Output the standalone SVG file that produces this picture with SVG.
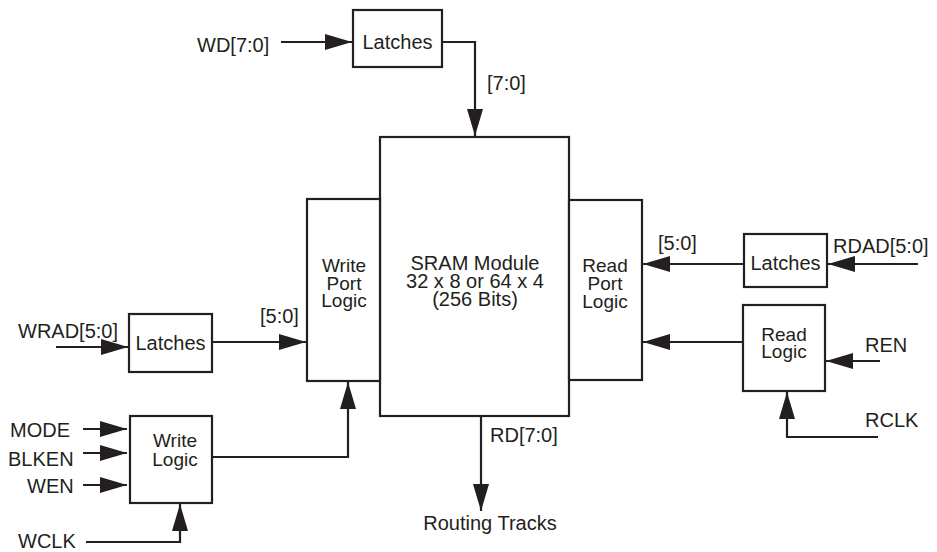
<svg xmlns="http://www.w3.org/2000/svg" width="937" height="552" viewBox="0 0 937 552">
<style>
.box{fill:#fff;stroke:#231f20;stroke-width:2.2}
.ln{fill:none;stroke:#231f20;stroke-width:2.2;marker-end:url(#ah)}
text{font-family:"Liberation Sans",Arial,sans-serif;font-size:20px;fill:#231f20}
.m{text-anchor:middle}
.t{font-size:19px}
</style>
<defs>
<marker id="ah" markerUnits="userSpaceOnUse" markerWidth="28" markerHeight="16" refX="27" refY="8" orient="auto" viewBox="0 0 28 16">
<path d="M0,0 L27,8 L0,16 z" fill="#231f20"/>
</marker>
</defs>
<rect width="937" height="552" fill="#fff"/>
<g id="connectors">
<line class="ln" x1="281" y1="42" x2="352" y2="42"/>
<polyline class="ln" points="442,42 475,42 475,136"/>
<line class="ln" x1="56" y1="347" x2="128" y2="347"/>
<line class="ln" x1="212" y1="342" x2="306" y2="342"/>
<line class="ln" x1="83" y1="429" x2="127" y2="429"/>
<line class="ln" x1="83" y1="453" x2="127" y2="453"/>
<line class="ln" x1="83" y1="485" x2="127" y2="485"/>
<polyline class="ln" points="86,542 180,542 180,504"/>
<polyline class="ln" points="212,457 348,457 348,382"/>
<line class="ln" x1="918" y1="264" x2="828" y2="264"/>
<line class="ln" x1="744" y1="264" x2="643" y2="264"/>
<line class="ln" x1="743" y1="342" x2="643" y2="342"/>
<line class="ln" x1="880" y1="361" x2="826" y2="361"/>
<polyline class="ln" points="878,437 787,437 787,392"/>
<line class="ln" x1="481" y1="416" x2="481" y2="511"/>
</g>
<g id="latches-wd">
<rect class="box" x="353" y="10" width="89" height="57"/>
<text class="m" x="397.5" y="49">Latches</text>
</g>
<g id="sram">
<rect class="box" x="380" y="137" width="189" height="279"/>
<text class="m" x="475" y="270">SRAM Module</text>
<text class="m" x="475" y="288">32 x 8 or 64 x 4</text>
<text class="m" x="475" y="306">(256 Bits)</text>
</g>
<g id="write-port">
<rect class="box" x="307" y="199" width="73" height="182"/>
<text class="m t" x="344" y="272">Write</text>
<text class="m t" x="344" y="290">Port</text>
<text class="m t" x="344" y="307">Logic</text>
</g>
<g id="read-port">
<rect class="box" x="569" y="200" width="73" height="180"/>
<text class="m t" x="605" y="272">Read</text>
<text class="m t" x="605" y="290">Port</text>
<text class="m t" x="605" y="308">Logic</text>
</g>
<g id="latches-wrad">
<rect class="box" x="129" y="314" width="83" height="58"/>
<text class="m" x="170.5" y="350">Latches</text>
</g>
<g id="latches-rdad">
<rect class="box" x="744" y="234" width="83" height="53"/>
<text class="m" x="785.5" y="270">Latches</text>
</g>
<g id="read-logic">
<rect class="box" x="743" y="305" width="82" height="86"/>
<text class="m t" x="784" y="341">Read</text>
<text class="m t" x="784" y="358">Logic</text>
</g>
<g id="write-logic">
<rect class="box" x="130" y="416" width="82" height="87"/>
<text class="m t" x="175" y="447">Write</text>
<text class="m t" x="175" y="466">Logic</text>
</g>
<g id="labels">
<text x="197" y="52">WD[7:0]</text>
<text x="487" y="90">[7:0]</text>
<text x="18" y="338">WRAD[5:0]</text>
<text x="260" y="323">[5:0]</text>
<text x="658" y="250">[5:0]</text>
<text x="833" y="253">RDAD[5:0]</text>
<text x="865" y="352">REN</text>
<text x="865" y="427">RCLK</text>
<text x="10" y="437">MODE</text>
<text x="8" y="466">BLKEN</text>
<text x="27" y="493">WEN</text>
<text x="18" y="548">WCLK</text>
<text x="490" y="442">RD[7:0]</text>
<text class="m" x="490" y="530">Routing Tracks</text>
</g>
</svg>
